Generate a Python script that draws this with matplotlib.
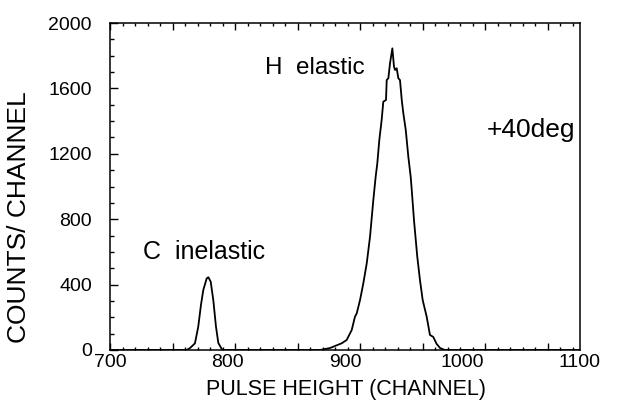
import matplotlib
matplotlib.use("Agg")
import matplotlib.pyplot as plt
from matplotlib.ticker import FixedLocator, MultipleLocator

plt.rcParams['font.family'] = ['Liberation Sans', 'DejaVu Sans']

channel = [700, 765.3, 768.1, 770.9, 772.3, 775.1, 777.4, 779.4, 782.3, 783.7,
           785.7, 787.9, 790.2, 792.2, 795.1, 797,
           878.7, 887.2, 897.2, 901.4, 905.7, 908.5, 910.0, 912.8, 915.6, 918.5,
           921.3, 924.1, 926.1, 927.5, 929.2, 931.2, 932.6, 934.9, 935.5, 936.9,
           938.3, 940.3, 941.7, 942.6, 944.0, 945.4, 946.8, 948.3, 949.6, 951.7,
           953.9, 955.9, 956.8, 958.7, 961.5, 963.8, 966.1, 969.5, 972.3, 975.1,
           978.0, 980.9, 985, 1100]
counts = [0, 0, 12, 31, 41, 142, 275, 367, 438, 445,
          418, 306, 142, 43, 6, 0,
          0, 12, 41, 61, 122, 204, 224, 306, 408, 530,
          693, 917, 1060, 1142, 1284, 1407, 1519, 1529, 1651, 1662,
          1753, 1845, 1733, 1713, 1723, 1662, 1651, 1529, 1450, 1346,
          1182, 1060, 979, 795, 571, 428, 306, 204, 92, 80,
          37, 12, 0, 0]

x_labels = [700, 800, 900, 1000, 1100]
y_labels = [0, 400, 800, 1200, 1600, 2000]

fig = plt.figure(figsize=(6.38, 4.07), dpi=100)
ax = fig.add_axes([110/638, 1-350/407, 470/638, 327/407])

ax.plot(channel, counts, color='black', lw=1.3)

ax.set_xlim(700, 1100)
ax.set_ylim(0, 2000)

# tick marks on the frame do not line up with the labels in the original
step = 62.5 / 1.175
ax.xaxis.set_major_locator(FixedLocator([700 + k*step for k in range(8)]))
ax.xaxis.set_minor_locator(FixedLocator([700 + k*step/5 for k in range(38)]))
ax.set_xticklabels([])
ax.tick_params(axis='x', which='both', direction='in', top=True, bottom=True, width=1)
ax.tick_params(axis='x', which='major', length=5)
ax.tick_params(axis='x', which='minor', length=2.5)

sec = ax.secondary_xaxis('bottom')
sec.set_xticks(x_labels)
sec.tick_params(length=0, pad=3, labelsize=14)
sec.spines['bottom'].set_visible(False)

ax.set_yticks(y_labels)
ax.yaxis.set_minor_locator(MultipleLocator(100))
ax.tick_params(axis='y', which='both', direction='in', left=True, right=False,
               labelsize=14, pad=13, width=1)
ax.tick_params(axis='y', which='major', length=6)
ax.tick_params(axis='y', which='minor', length=3)

for s in ax.spines.values():
    s.set_linewidth(1.1)

fig.text(346/638, 1-389/407, 'PULSE HEIGHT (CHANNEL)', ha='center', va='center', fontsize=15.5)
fig.text(19/638, 1-217/407, 'COUNTS/ CHANNEL', ha='center', va='center',
         rotation=90, fontsize=19)

ax.text(832, 1725, 'H  elastic', ha='left', va='center', fontsize=17.5)
ax.text(728, 600, 'C  inelastic', ha='left', va='center', fontsize=18)
ax.text(1021, 1346, '+40deg', ha='left', va='center', fontsize=19)

fig.savefig('out.png', dpi=100)
